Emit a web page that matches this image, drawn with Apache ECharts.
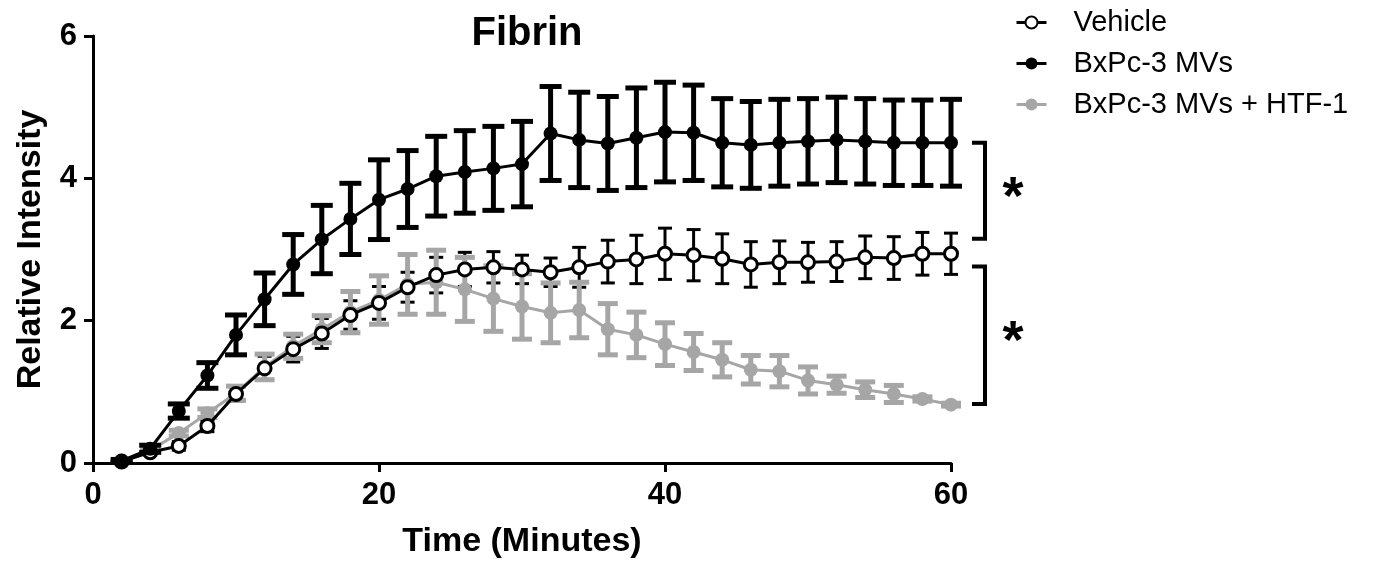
<!DOCTYPE html>
<html>
<head>
<meta charset="utf-8">
<script src="https://cdn.jsdelivr.net/npm/echarts@6/dist/echarts.min.js"></script>
<style>
  html, body { margin: 0; padding: 0; background: #fff; }
  #chart { width: 1376px; height: 564px; }
</style>
</head>
<body>
<div id="chart"></div>
<script>
// ---- Data ----
const times = [2,4,6,8,10,12,14,16,18,20,22,24,26,28,30,32,34,36,38,40,42,44,46,48,50,52,54,56,58,60];

const vehicle    = [0.02,0.15,0.24,0.52,0.97,1.33,1.60,1.82,2.08,2.25,2.47,2.64,2.72,2.75,2.72,2.68,2.75,2.83,2.86,2.94,2.92,2.87,2.79,2.82,2.82,2.83,2.89,2.88,2.94,2.94];
const vehicleErr = [0.02,0.04,0.06,0.08,0.10,0.17,0.18,0.21,0.20,0.23,0.21,0.25,0.24,0.22,0.20,0.20,0.28,0.30,0.34,0.36,0.36,0.35,0.32,0.30,0.28,0.28,0.30,0.30,0.30,0.29];

const mvs    = [0.03,0.20,0.73,1.23,1.80,2.30,2.79,3.14,3.43,3.70,3.85,4.03,4.09,4.14,4.20,4.63,4.54,4.49,4.57,4.65,4.64,4.50,4.47,4.50,4.52,4.54,4.52,4.50,4.50,4.50];
const mvsErr = [0.02,0.05,0.10,0.18,0.28,0.37,0.42,0.48,0.50,0.56,0.54,0.56,0.58,0.59,0.60,0.66,0.67,0.66,0.70,0.70,0.67,0.62,0.61,0.61,0.60,0.60,0.60,0.60,0.60,0.61];

const htf    = [0.03,0.18,0.42,0.70,0.98,1.35,1.64,1.88,2.12,2.29,2.51,2.54,2.44,2.31,2.20,2.11,2.15,1.88,1.80,1.67,1.56,1.45,1.31,1.29,1.16,1.10,1.03,0.97,0.90,0.82];
const htfErr = [0.01,0.02,0.04,0.06,0.10,0.18,0.17,0.19,0.29,0.34,0.42,0.45,0.45,0.46,0.46,0.42,0.39,0.36,0.32,0.30,0.26,0.24,0.20,0.22,0.19,0.12,0.11,0.12,0.03,0.02];

const seriesNames = ['Vehicle', 'BxPc-3 MVs', 'BxPc-3 MVs + HTF-1'];
const xTicks = [0, 20, 40, 60];
const yTicks = [0, 2, 4, 6];

// significance brackets: [top value, bottom value]
const brackets = [[4.50, 3.15], [2.76, 0.83]];
const bracketLabels = ['*', '*'];

// ---- Helpers ----
const FONT = "'Liberation Sans', Arial, sans-serif";
const BLACK = '#000000';
const GREY = '#a6a6a6';

function pairs(ys) { return times.map((t, i) => [t, ys[i]]); }
function errData(ys, es) { return times.map((t, i) => [t, ys[i] - es[i], ys[i] + es[i]]); }

function errSeries(ys, es, color, capW, lw, z) {
  return {
    type: 'custom',
    z: z,
    silent: true,
    clip: false,
    data: errData(ys, es),
    renderItem: function (params, api) {
      const lo = api.coord([api.value(0), api.value(1)]);
      const hi = api.coord([api.value(0), api.value(2)]);
      const st = { stroke: color, lineWidth: lw, fill: null };
      return {
        type: 'group',
        children: [
          { type: 'line', shape: { x1: lo[0], y1: lo[1], x2: hi[0], y2: hi[1] }, style: st },
          { type: 'line', shape: { x1: hi[0] - capW / 2, y1: hi[1], x2: hi[0] + capW / 2, y2: hi[1] }, style: st },
          { type: 'line', shape: { x1: lo[0] - capW / 2, y1: lo[1], x2: lo[0] + capW / 2, y2: lo[1] }, style: st }
        ]
      };
    }
  };
}

const chart = echarts.init(document.getElementById('chart'), null, { renderer: 'canvas' });

const option = {
  animation: false,
  backgroundColor: '#ffffff',
  title: {
    text: 'Fibrin',
    left: 522,
    top: 9,
    textAlign: 'center',
    textStyle: { fontFamily: FONT, fontWeight: 'bold', fontSize: 40, color: BLACK }
  },
  legend: {
    data: seriesNames,
    orient: 'vertical',
    left: 1010,
    top: 3,
    itemWidth: 30,
    itemHeight: 15,
    itemGap: 12,
    lineStyle: { width: 3 },
    textStyle: { fontFamily: FONT, fontSize: 29, color: BLACK, padding: [0, 0, 0, 22] },
    selectedMode: false
  },
  grid: { left: 93, right: 425, top: 36, bottom: 100, containLabel: false },
  xAxis: {
    type: 'value',
    min: xTicks[0],
    max: xTicks[xTicks.length - 1],
    interval: xTicks[1] - xTicks[0],
    name: 'Time (Minutes)',
    nameLocation: 'middle',
    nameGap: 62,
    nameTextStyle: { fontFamily: FONT, fontWeight: 'bold', fontSize: 34, color: BLACK },
    axisLine: { lineStyle: { color: BLACK, width: 3 } },
    axisTick: { length: 9, lineStyle: { color: BLACK, width: 3 } },
    axisLabel: { fontFamily: FONT, fontWeight: 'bold', fontSize: 31, color: BLACK, margin: 17 },
    splitLine: { show: false }
  },
  yAxis: {
    type: 'value',
    min: yTicks[0],
    max: yTicks[yTicks.length - 1],
    interval: yTicks[1] - yTicks[0],
    name: 'Relative Intensity',
    nameLocation: 'middle',
    nameGap: 45,
    nameTextStyle: { fontFamily: FONT, fontWeight: 'bold', fontSize: 34, color: BLACK },
    axisLine: { show: true, lineStyle: { color: BLACK, width: 3 } },
    axisTick: { show: true, length: 9, lineStyle: { color: BLACK, width: 3 } },
    axisLabel: { fontFamily: FONT, fontWeight: 'bold', fontSize: 31, color: BLACK, margin: 16 },
    splitLine: { show: false }
  },
  series: [
    errSeries(vehicle, vehicleErr, BLACK, 14, 3, 2),
    errSeries(htf, htfErr, GREY, 20, 5, 3),
    {
      name: seriesNames[2],
      type: 'line',
      z: 4,
      data: pairs(htf),
      symbol: 'circle',
      symbolSize: 14,
      lineStyle: { color: GREY, width: 3 },
      itemStyle: { color: GREY, borderWidth: 0 }
    },
    {
      name: seriesNames[0],
      type: 'line',
      z: 5,
      data: pairs(vehicle),
      symbol: 'circle',
      symbolSize: 13,
      lineStyle: { color: BLACK, width: 3 },
      itemStyle: { color: '#ffffff', borderColor: BLACK, borderWidth: 3 }
    },
    errSeries(mvs, mvsErr, BLACK, 22, 5, 6),
    {
      name: seriesNames[1],
      type: 'line',
      z: 7,
      data: pairs(mvs),
      symbol: 'circle',
      symbolSize: 14,
      lineStyle: { color: BLACK, width: 3 },
      itemStyle: { color: BLACK, borderWidth: 0 }
    },
    {
      type: 'custom',
      z: 8,
      silent: true,
      clip: false,
      data: brackets.map((b, i) => [b[0], b[1], i]),
      renderItem: function (params, api) {
        const xEnd = xTicks[xTicks.length - 1];
        const top = api.coord([xEnd, api.value(0)]);
        const bot = api.coord([xEnd, api.value(1)]);
        const xv = top[0] + 34;
        const arm = 13;
        const st = { stroke: BLACK, lineWidth: 4, fill: null };
        return {
          type: 'group',
          children: [
            { type: 'polyline', shape: { points: [[xv - arm, top[1]], [xv, top[1]], [xv, bot[1]], [xv - arm, bot[1]]] }, style: st },
            { type: 'text', style: {
                text: bracketLabels[api.value(2)], x: xv + 28, y: (top[1] + bot[1]) / 2 + 8,
                align: 'center', verticalAlign: 'middle',
                font: "bold 54px 'Liberation Sans', Arial, sans-serif", fill: BLACK } }
          ]
        };
      }
    }
  ]
};

chart.setOption(option);
</script>
</body>
</html>
